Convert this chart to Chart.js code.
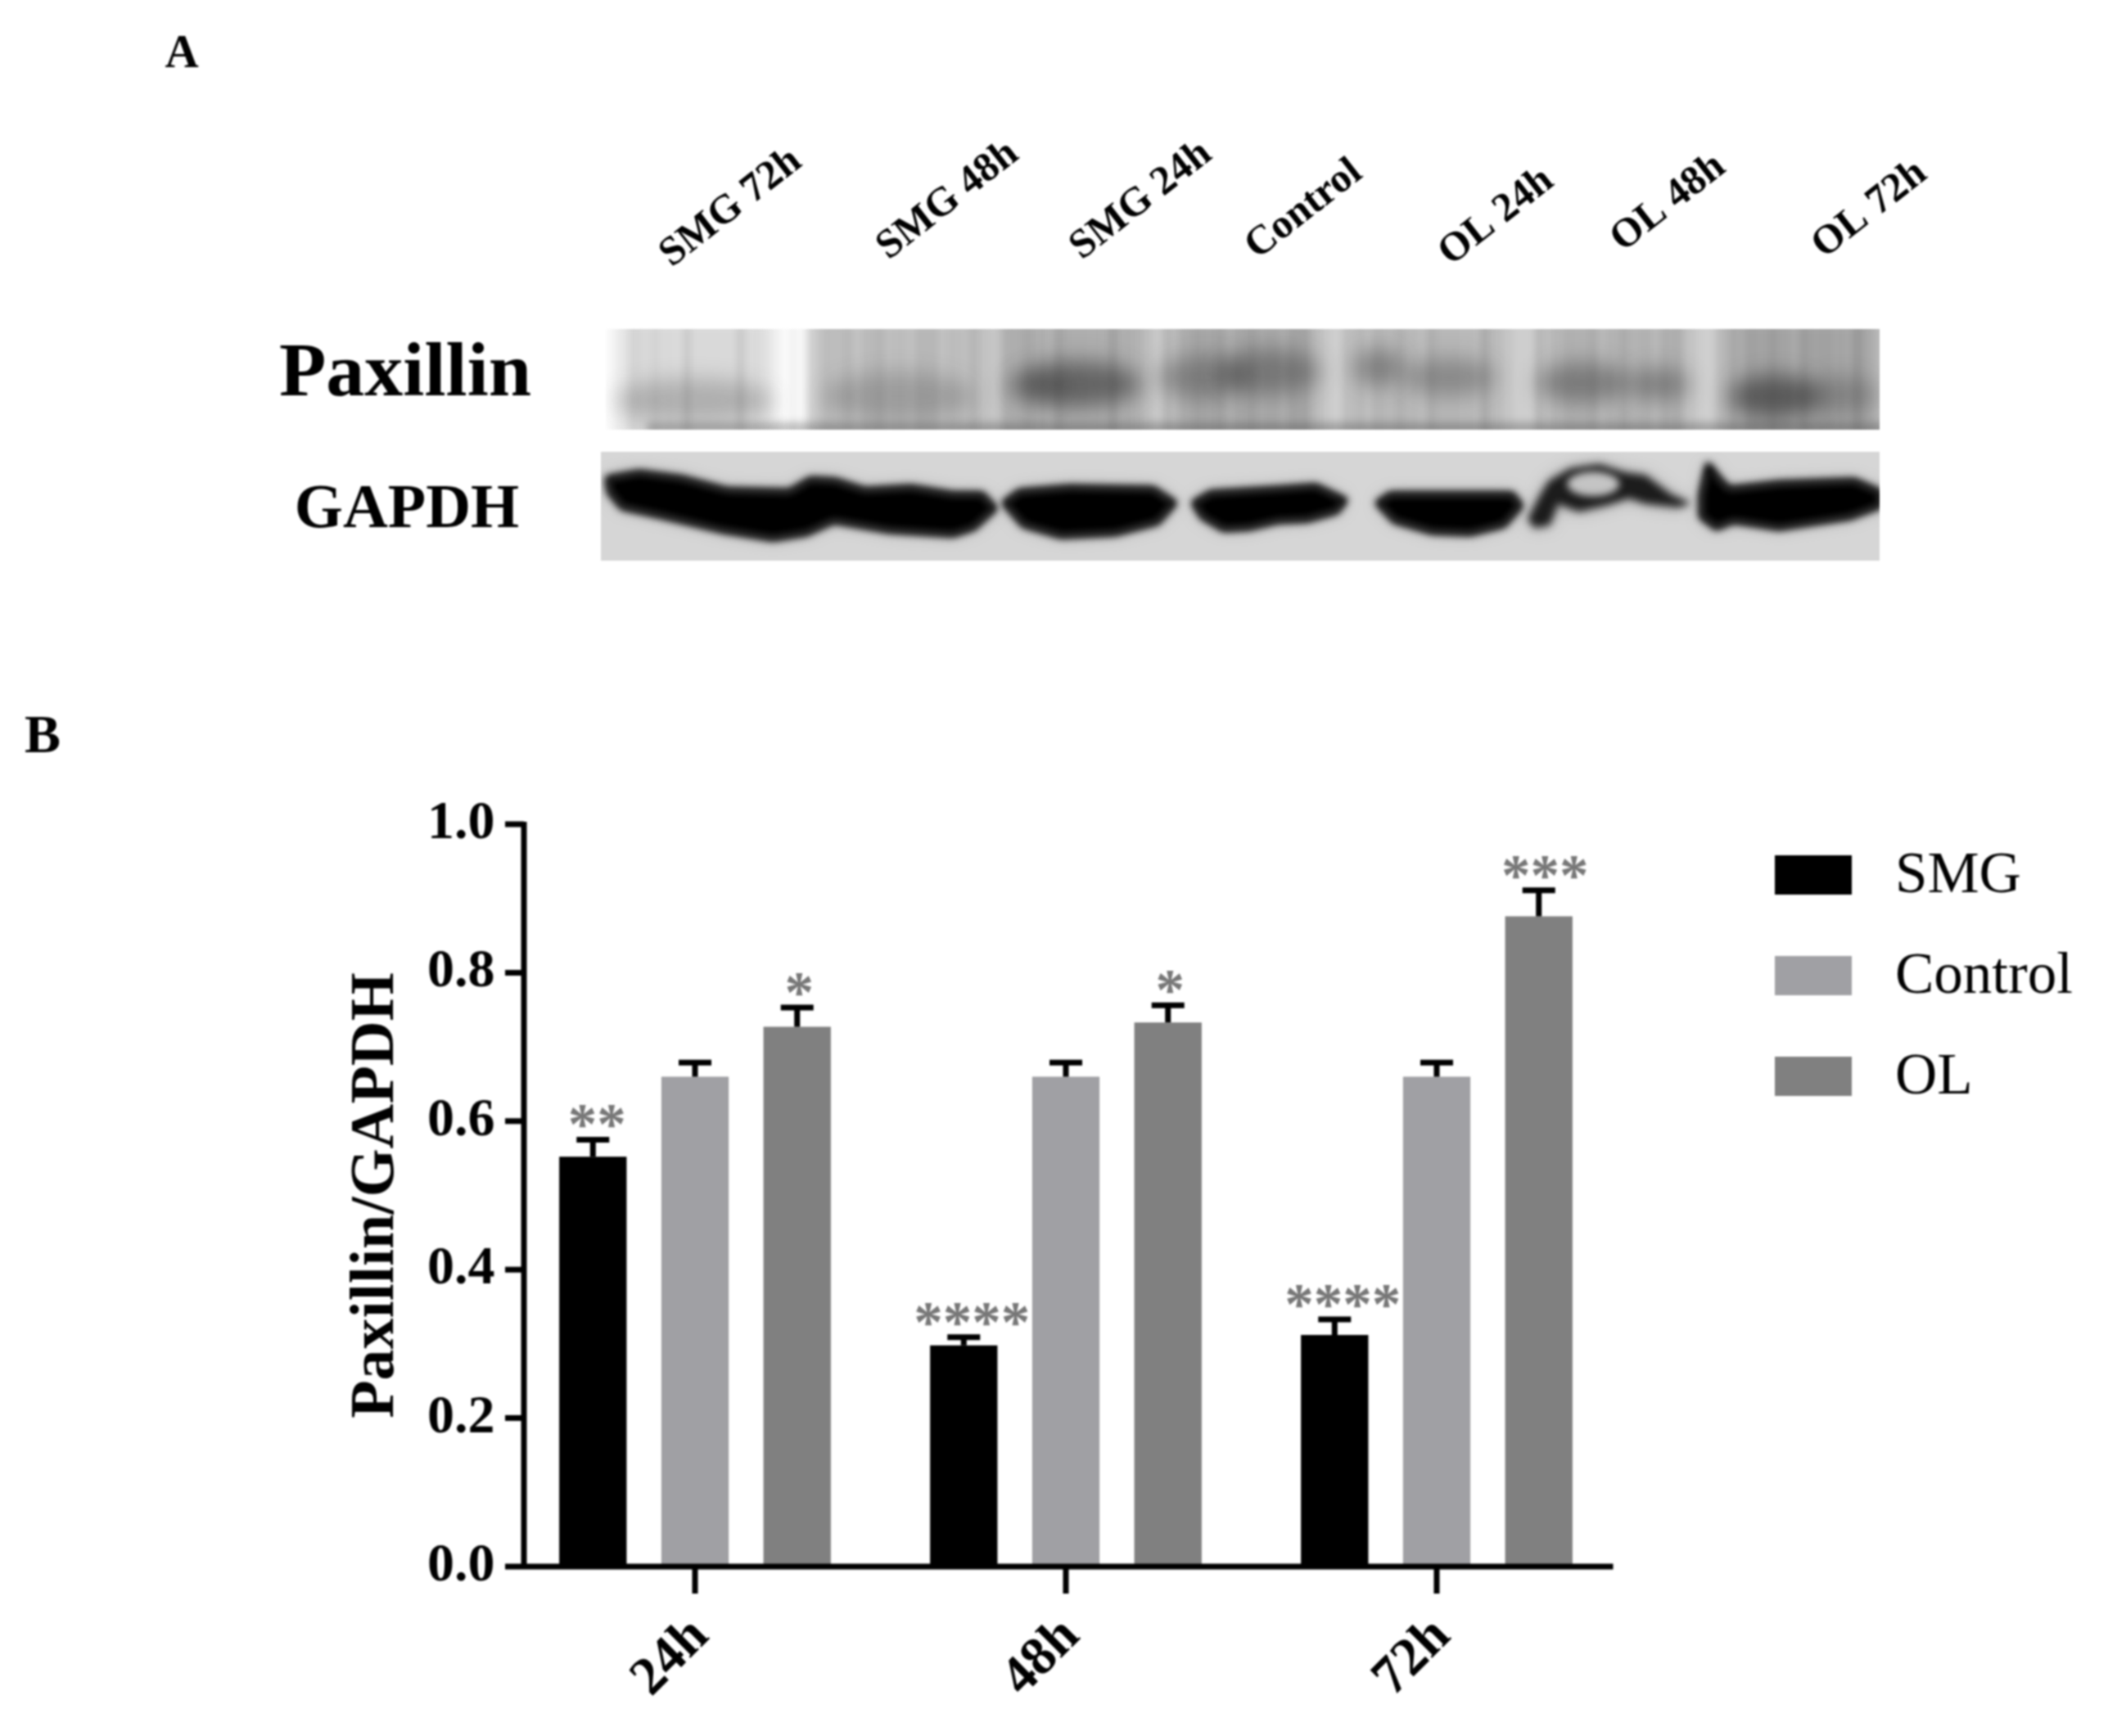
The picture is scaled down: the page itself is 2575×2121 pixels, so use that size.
<!DOCTYPE html>
<html>
<head>
<meta charset="utf-8">
<title>Paxillin/GAPDH</title>
<script src="https://cdn.jsdelivr.net/npm/chart.js@4"></script>
<style>
  html, body { margin: 0; background: #fff; }
  canvas { display: block; filter: blur(1.3px); }
</style>
</head>
<body>
<canvas id="chart" width="2575" height="2121"></canvas>
<script>
// bar chart data
const categories = ['24h', '48h', '72h'];
const seriesNames = ['SMG', 'Control', 'OL'];
const smgValues = [0.552, 0.298, 0.312];
const controlValues = [0.66, 0.66, 0.66];
const olValues = [0.727, 0.733, 0.876];
const smgErrors = [0.023, 0.011, 0.021];
const controlErrors = [0.019, 0.019, 0.019];
const olErrors = [0.026, 0.023, 0.035];
const smgStars = ['**', '****', '****'];
const controlStars = ['', '', ''];
const olStars = ['*', '*', '***'];
const yTicks = [0, 0.2, 0.4, 0.6, 0.8, 1.0];

// blot panel data
const laneLabels = ['SMG 72h', 'SMG 48h', 'SMG 24h', 'Control', 'OL 24h', 'OL 48h', 'OL 72h'];
const paxillinBackground = [0.15, 0.26, 0.32, 0.34, 0.28, 0.3, 0.36];

// layout of the blot
const SERIF = '"Liberation Serif", serif';
const laneLabelPos = [[893, 254], [1158, 245], [1394, 245], [1593, 256], [1828, 265], [2038, 248], [2284, 256]];
const paxLanes = [[755, 945], [1000, 1205], [1220, 1403], [1430, 1612], [1648, 1842], [1882, 2066], [2107, 2296]];
const toX = (z, ox) => ox + z / 1.96;
const toY = z => 390 + z / 3.03;
const paxSpots = [
    [730, 230, 300, 190, 80, 0.24], [730, 720, 285, 180, 90, 0.22], [730, 1150, 240, 150, 85, 0.55],
    [730, 1050, 250, 80, 60, 0.2], [730, 1450, 215, 110, 80, 0.34], [1510, 80, 195, 120, 85, 0.38],
    [1510, 340, 180, 60, 70, 0.38], [1510, 510, 215, 110, 70, 0.32], [1510, 830, 235, 110, 75, 0.4],
    [1510, 1010, 240, 75, 60, 0.38], [1510, 1290, 285, 110, 80, 0.6], [1510, 1450, 280, 85, 70, 0.28]
];
const gapdhBlobs = [
    [730, [25,590, 100,570, 200,590, 310,635, 460,640, 510,595, 570,600, 640,635, 750,625, 850,650, 920,650, 950,700,
        900,770, 850,795, 700,780, 565,745, 500,790, 420,810, 300,780, 150,725, 60,695, 30,640]],
    [730, [975,680, 1010,640, 1130,625, 1330,630, 1380,680, 1340,750, 1240,790, 1110,800, 1020,760]],
    [1510, [-100,680, -60,645, 100,630, 190,620, 260,670, 240,710, 170,740, 100,745, 30,770, -30,775, -80,730]],
    [1510, [340,680, 370,650, 660,650, 680,690, 640,760, 560,790, 470,785, 380,745]],
    [1510, [700,740, 730,650, 750,600, 800,555, 870,540, 930,570, 980,580, 1040,650, 1085,680, 1060,695, 980,680,
        940,660, 890,685, 820,710, 770,680, 750,760, 715,770]],
    [1510, [1130,540, 1160,600, 1180,630, 1300,610, 1480,600, 1540,640, 1540,690, 1470,730, 1300,770, 1190,745,
        1150,770, 1115,730, 1115,650]]
];

const colors = ['#000000', '#a0a0a4', '#808080'];
const values = [smgValues, controlValues, olValues];
const errors = [smgErrors, controlErrors, olErrors];
const stars = [smgStars, controlStars, olStars];

function blobPath(ctx, ox, pts) {
    ctx.beginPath();
    for (let i = 0; i < pts.length; i += 2) {
        ctx.lineTo(toX(pts[i], ox), toY(pts[i + 1]));
    }
    ctx.closePath();
}

function drawPaxillin(ctx) {
    ctx.save();
    ctx.beginPath();
    ctx.rect(740, 402, 1556, 123);
    ctx.clip();
    ctx.filter = 'blur(6px)';
    ctx.fillStyle = '#d2d2d2';
    ctx.fillRect(985, 390, 1330, 150);
    paxLanes.forEach(([x0, x1], i) => {
        const bg = Math.round(255 * (1 - paxillinBackground[i]));
        ctx.filter = 'blur(12px)';
        ctx.fillStyle = `rgb(${bg},${bg},${bg})`;
        ctx.fillRect(x0, 380, x1 - x0, 170);
    });
    // fine vertical streaks of the scan
    ctx.filter = 'blur(4px)';
    for (let x = 745; x < 2296; x += 13) {
        const s = Math.sin(x * 0.11) + Math.sin(x * 0.29 + 1);
        ctx.fillStyle = s > 0 ? `rgba(255,255,255,${0.06 * s})` : `rgba(0,0,0,${-0.05 * s})`;
        ctx.fillRect(x, 395, 7, 135);
    }
    paxSpots.forEach(([ox, x, y, rx, ry, a]) => {
        ctx.filter = 'blur(13px)';
        ctx.fillStyle = `rgba(40,40,40,${a})`;
        ctx.beginPath();
        ctx.ellipse(toX(x, ox), toY(y), rx / 1.96, ry / 3.03, 0, 0, Math.PI * 2);
        ctx.fill();
    });
    // darker bottom edge
    ctx.filter = 'blur(5px)';
    ctx.fillStyle = 'rgba(60,60,60,0.3)';
    ctx.fillRect(790, 516, 1520, 14);
    ctx.restore();
}

function drawGapdh(ctx) {
    ctx.save();
    ctx.beginPath();
    ctx.rect(734, 552, 1562, 133);
    ctx.clip();
    ctx.fillStyle = '#d6d6d6';
    ctx.fillRect(734, 552, 1562, 133);
    gapdhBlobs.forEach(([ox, pts]) => {
        ctx.filter = 'blur(10px)';
        ctx.fillStyle = 'rgba(110,110,110,0.65)';
        blobPath(ctx, ox, pts);
        ctx.fill();
    });
    gapdhBlobs.forEach(([ox, pts], i) => {
        ctx.filter = 'blur(5px)';
        ctx.fillStyle = i === 4 ? '#1c1c1c' : '#000';
        ctx.strokeStyle = ctx.fillStyle;
        ctx.lineWidth = i === 4 ? 1 : 7;
        ctx.lineJoin = 'round';
        blobPath(ctx, ox, pts);
        ctx.fill();
        ctx.stroke();
    });
    // pale hole in the bubble on the OL 48h lane
    ctx.filter = 'blur(5px)';
    ctx.fillStyle = '#c4c4c4';
    ctx.beginPath();
    ctx.ellipse(toX(855, 1510), toY(610), 32, 15, 0, 0, Math.PI * 2);
    ctx.fill();
    ctx.restore();
}

function drawBlot(ctx) {
    drawPaxillin(ctx);
    drawGapdh(ctx);

    // blot labels
    ctx.fillStyle = '#000';
    ctx.textAlign = 'center';
    ctx.textBaseline = 'middle';
    ctx.font = `bold 94px ${SERIF}`;
    ctx.fillText('Paxillin', 495, 459);
    ctx.font = `bold 76px ${SERIF}`;
    ctx.fillText('GAPDH', 497, 624);
    ctx.font = `bold 57px ${SERIF}`;
    ctx.fillText('A', 222, 67);
    ctx.font = `bold 66px ${SERIF}`;
    ctx.fillText('B', 52, 902);
    ctx.font = `bold 50px ${SERIF}`;
    laneLabels.forEach((label, i) => {
        ctx.save();
        ctx.translate(laneLabelPos[i][0], laneLabelPos[i][1]);
        ctx.rotate(-38 * Math.PI / 180);
        ctx.fillText(label, 0, 0);
        ctx.restore();
    });
}

const extrasPlugin = {
    id: 'extras',
    afterDraw(chart) {
        const ctx = chart.ctx;
        const xs = chart.scales.x;
        const ys = chart.scales.y;
        const axisX = chart.chartArea.left + 17.5;
        const axisEnd = chart.chartArea.right - 11;
        const baseY = ys.getPixelForValue(0);

        // error bars and stars
        values.forEach((series, d) => {
            const meta = chart.getDatasetMeta(d);
            series.forEach((v, i) => {
                const x = meta.data[i].x;
                const top = ys.getPixelForValue(v + errors[d][i]);
                ctx.strokeStyle = '#000';
                ctx.lineWidth = 7;
                ctx.beginPath();
                ctx.moveTo(x, ys.getPixelForValue(v));
                ctx.lineTo(x, top);
                ctx.moveTo(x - 20, top);
                ctx.lineTo(x + 20, top);
                ctx.stroke();
                if (stars[d][i]) {
                    ctx.fillStyle = '#777777';
                    ctx.font = `bold 71px ${SERIF}`;
                    ctx.textAlign = 'center';
                    ctx.textBaseline = 'alphabetic';
                    ctx.fillText(stars[d][i], x + 2.5 * stars[d][i].length, top + 5);
                }
            });
        });

        // axes
        ctx.strokeStyle = '#000';
        ctx.lineWidth = 7;
        ctx.beginPath();
        ctx.moveTo(axisX, ys.getPixelForValue(1) - 3);
        ctx.lineTo(axisX, baseY + 3);
        ctx.moveTo(axisX - 23, baseY);
        ctx.lineTo(axisEnd, baseY);
        ys.ticks.forEach(t => {
            const y = ys.getPixelForValue(t.value);
            ctx.moveTo(axisX - 23, y);
            ctx.lineTo(axisX, y);
        });
        xs.ticks.forEach((t, i) => {
            const x = xs.getPixelForTick(i);
            ctx.moveTo(x, baseY);
            ctx.lineTo(x, baseY + 33);
        });
        ctx.stroke();

        // legend
        ctx.font = `71px ${SERIF}`;
        ctx.textAlign = 'left';
        ctx.textBaseline = 'middle';
        seriesNames.forEach((name, i) => {
            const y = 1069 + i * 123;
            ctx.fillStyle = colors[i];
            ctx.fillRect(2168, y - 24, 94, 48);
            ctx.fillStyle = '#000';
            ctx.fillText(name, 2315, y + 2);
        });

        drawBlot(ctx);
    }
};

new Chart(document.getElementById('chart'), {
    type: 'bar',
    data: {
        labels: categories,
        datasets: seriesNames.map((name, i) => ({
            label: name,
            data: values[i],
            backgroundColor: colors[i],
            borderWidth: 0,
            categoryPercentage: 0.826,
            barPercentage: 0.66
        }))
    },
    options: {
        responsive: false,
        animation: false,
        layout: { padding: { left: 400, top: 1007, right: 593.5, bottom: 0 } },
        plugins: { legend: { display: false }, tooltip: { enabled: false } },
        scales: {
            x: {
                afterFit: s => { s.height = 207; },
                grid: { display: false, drawTicks: false },
                border: { display: false },
                ticks: {
                    color: '#000',
                    font: { family: SERIF, weight: 'bold', size: 66 },
                    minRotation: 45,
                    maxRotation: 45,
                    labelOffset: 7,
                    padding: 47
                }
            },
            y: {
                min: 0,
                max: 1,
                afterFit: s => { s.width = 222.5; },
                afterBuildTicks: s => { s.ticks = yTicks.map(v => ({ value: v })); },
                grid: { display: false, drawTicks: false },
                border: { display: false },
                title: {
                    display: true,
                    text: 'Paxillin/GAPDH',
                    color: '#000',
                    font: { family: SERIF, weight: 'bold', size: 76 },
                    padding: { top: 15, bottom: 0 }
                },
                ticks: {
                    color: '#000',
                    font: { family: SERIF, weight: 'bold', size: 66 },
                    padding: 18,
                    callback: v => v.toFixed(1)
                }
            }
        }
    },
    plugins: [extrasPlugin]
});
</script>
</body>
</html>
